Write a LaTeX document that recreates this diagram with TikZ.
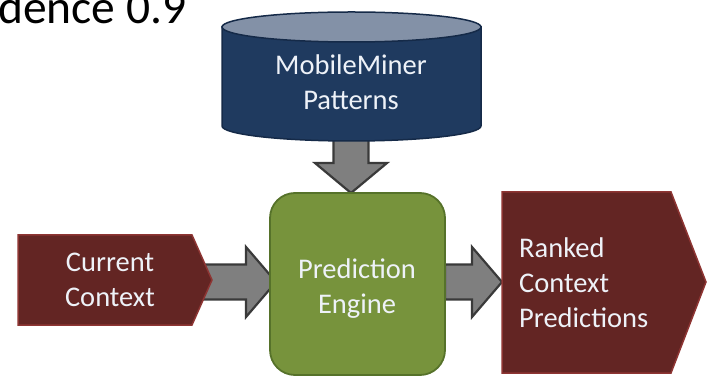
\documentclass[tikz,border=0pt]{standalone}
\usepackage{fontspec}
\setmainfont{Carlito}
\usetikzlibrary{calc,backgrounds}
\definecolor{navy}{HTML}{1F3A5F}
\definecolor{navytop}{HTML}{8391A7}
\definecolor{navyedge}{HTML}{152A48}
\definecolor{enginegreen}{HTML}{77933C}
\definecolor{greenedge}{HTML}{56722A}
\definecolor{darkred}{HTML}{632523}
\definecolor{rededge}{HTML}{8E3533}
\definecolor{arrowgray}{HTML}{7F7F7F}
\definecolor{arrowedge}{HTML}{3A3A3A}
\definecolor{labelcol}{HTML}{EEF2F8}
\newcommand\harrowfn[2]{%
  \path[blockarrow] let \p1=(#1), \p2=(#2) in
  (\x1,\y2+17.5) -- (\x2-30,\y2+17.5) -- (\x2-30,\y2+35) -- (\x2,\y2) --
  (\x2-30,\y2-35) -- (\x2-30,\y2-17.5) -- (\x1,\y2-17.5) -- cycle;}
\newcommand\varrowfn[2]{%
  \path[blockarrow] let \p1=(#1), \p2=(#2) in
  (\x1-17.5,\y1) -- (\x1-17.5,\y2+30) -- (\x1-36,\y2+30) -- (\x1,\y2) --
  (\x1+36,\y2+30) -- (\x1+17.5,\y2+30) -- (\x1+17.5,\y1) -- cycle;}
\begin{document}
\begin{tikzpicture}[x=1pt,y=1pt,
  lbl/.style={font=\fontsize{28.5}{35}\selectfont, text=labelcol, inner sep=0pt, align=center},
  blockarrow/.style={fill=arrowgray, draw=arrowedge, line width=2.2pt, line join=miter},
  redshape/.style={fill=darkred, draw=rededge, line width=1.5pt, line join=miter}]
\useasboundingbox (0,0) rectangle (708,377);

% title fragment
\node[anchor=base west, inner sep=0pt, font=\fontsize{47.5}{57}\selectfont] (title) at (-2,353) {dence 0.9};

% database cylinder
\path[fill=navy, draw=navyedge, line width=1.5pt] (222,350) -- (222,251)
  arc[start angle=180, end angle=360, x radius=129.5, y radius=15] -- (481,350) -- cycle;
\draw[fill=navytop, draw=navyedge, line width=1.5pt] (351.5,350) ellipse[x radius=129.5, y radius=15];
\node[lbl] (db) at (351,294.5) {MobileMiner\\Patterns};
\coordinate (dbbottom) at (351,245);

% prediction engine
\node[draw=greenedge, fill=enginegreen, line width=1.8pt, rounded corners=25pt,
  minimum width=175pt, minimum height=182pt, inner sep=0pt, outer sep=0pt] (engine) at (357.5,93) {};
\node[lbl] (enginetxt) at (357,88) {Prediction\\Engine};
\coordinate (enginetop) at (351,184);
\coordinate (engineleft) at (276,95);

% current context
\path[redshape] (18,142) -- (192,142) -- (212,97) -- (192,52) -- (18,52) -- cycle;
\node[lbl] (cur) at (110,97) {Current\\Context};
\coordinate (curtip) at (212,97);

% ranked predictions
\path[redshape] (502,185) -- (671,185) -- (706,95) -- (671,4) -- (502,4) -- cycle;
\node[lbl, align=left, anchor=west] (ranked) at (519,94.5) {Ranked\\Context\\Predictions};
\coordinate (rankedleft) at (502,95);

% block arrows (behind the shapes)
\begin{pgfonlayer}{background}
\harrowfn{$(curtip)+(-10,0)$}{engineleft}
\harrowfn{engine.east}{rankedleft}
\varrowfn{dbbottom}{enginetop}
\end{pgfonlayer}
\end{tikzpicture}
\end{document}
